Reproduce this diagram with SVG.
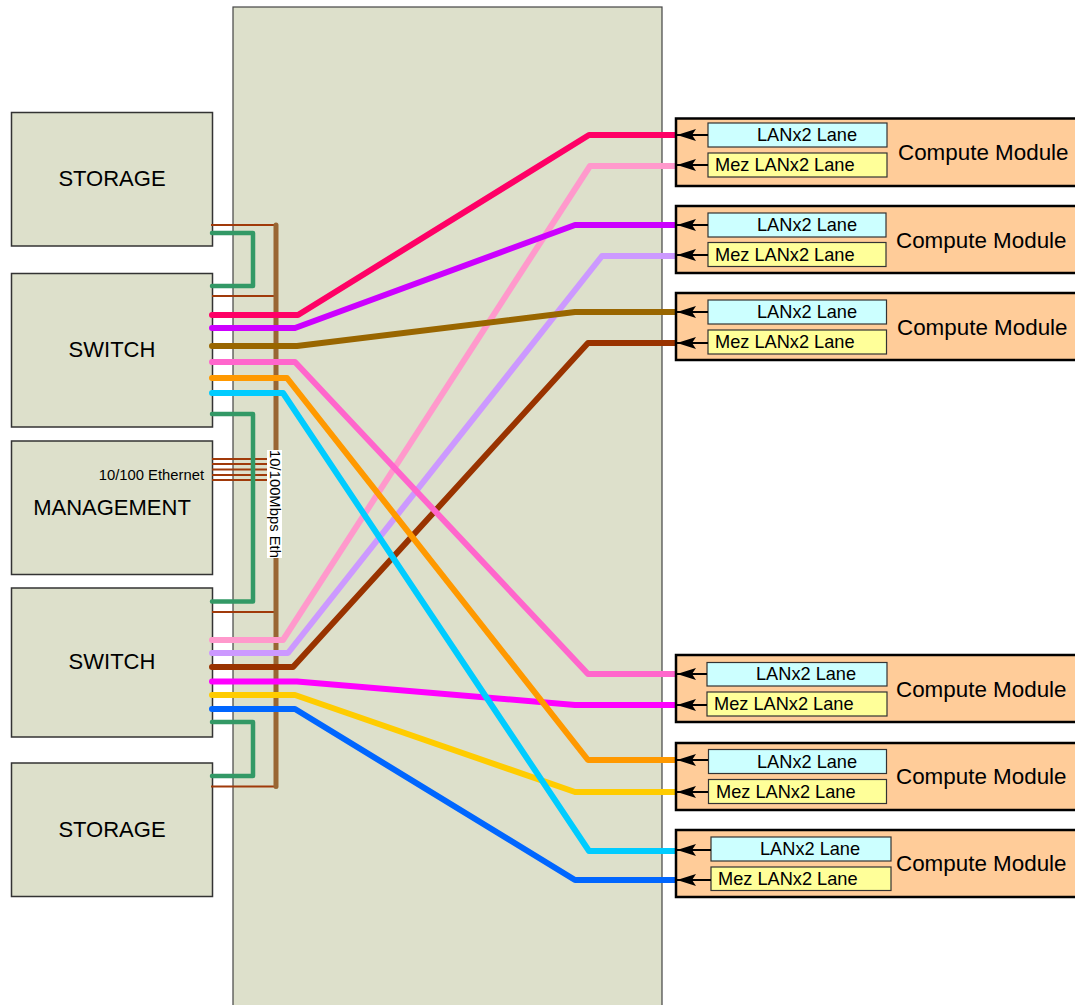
<svg xmlns="http://www.w3.org/2000/svg" width="1075" height="1005" viewBox="0 0 1075 1005">
<style>
.box{fill:#dde0cb;stroke:#333;stroke-width:1.5}
.lbl{font-family:"Liberation Sans",Arial,sans-serif;font-size:22px;fill:#000;text-anchor:middle}
.cm{fill:#ffcc99;stroke:#000;stroke-width:2.5}
.lan{fill:#ccffff;stroke:#333;stroke-width:1.2}
.mez{fill:#ffff99;stroke:#333;stroke-width:1.2}
.lt{font-family:"Liberation Sans",Arial,sans-serif;font-size:18.2px;fill:#000}
.ct{font-family:"Liberation Sans",Arial,sans-serif;font-size:22.4px;fill:#000}
.ar{stroke:#000;stroke-width:2;fill:none;marker-end:url(#ah)}
.w{fill:none;stroke-width:6;stroke-linecap:round;stroke-linejoin:round}
.g{fill:none;stroke:#339966;stroke-width:4.5;stroke-linecap:round;stroke-linejoin:round}
.tb{fill:none;stroke:#a03a0a;stroke-width:1.8}
</style>
<defs>
<marker id="ah" markerWidth="19" markerHeight="14" refX="19" refY="7" orient="auto" markerUnits="userSpaceOnUse">
<path d="M0,1 L19,7 L0,13 L4,7 Z" fill="#000"/>
</marker>
</defs>
<rect width="1075" height="1005" fill="#fff"/>
<g id="backplane"><rect x="233" y="7" width="429" height="1005" fill="#dde0cb" stroke="#444" stroke-width="1.2"/></g>
<g id="storage1"><rect class="box" x="11.5" y="112.5" width="201" height="133.5"/><text class="lbl" x="112" y="186">STORAGE</text></g>
<g id="switch1"><rect class="box" x="11.5" y="273.5" width="201" height="153.5"/><text class="lbl" x="112" y="357">SWITCH</text></g>
<g id="management"><rect class="box" x="11.5" y="441" width="201" height="133.5"/><text class="lbl" x="112" y="515">MANAGEMENT</text><text x="204" y="480" font-family="Liberation Sans,Arial,sans-serif" font-size="14.8" text-anchor="end">10/100 Ethernet</text></g>
<g id="switch2"><rect class="box" x="11.5" y="588" width="201" height="149"/><text class="lbl" x="112" y="669">SWITCH</text></g>
<g id="storage2"><rect class="box" x="11.5" y="763" width="201" height="133.5"/><text class="lbl" x="112" y="837">STORAGE</text></g>
<g id="connectors">
<path class="tb" d="M211,225 H276"/>
<path class="tb" d="M212,296 H276"/>
<path class="tb" d="M212,612 H276"/>
<path class="tb" d="M211,786.5 H276"/>
<path class="tb" d="M212,459 H276 M212,464 H276 M212,469.5 H276 M212,475 H276 M212,480 H276"/>
<path d="M276,225 V786.5" fill="none" stroke="#996633" stroke-width="5" stroke-linecap="round"/>
<path class="g" d="M212,233 H253 V286 H212"/>
<path class="g" d="M212,414 H253 V601.5 H212"/>
<path class="g" d="M212,722 H253 V776 H212"/>
<path class="w" stroke="#ff99cc" d="M212,640 H283 L590,166 H675"/>
<path class="w" stroke="#cc99ff" d="M212,653 H288 L602,256 H675"/>
<path class="w" stroke="#993300" d="M212,667 H293 L588,343 H675"/>
<path class="w" stroke="#ff00ff" d="M212,681.5 H297 L575,705 H675"/>
<path class="w" stroke="#ffcc00" d="M212,695 H295 L575,792 H675"/>
<path class="w" stroke="#0066ff" d="M212,709 H295 L575,880 H675"/>
<path class="w" stroke="#ff0066" d="M212,315 H298 L589,135 H675"/>
<path class="w" stroke="#cc00ff" d="M212,328 H295 L575,225 H675"/>
<path class="w" stroke="#996600" d="M212,346 H297 L575,312 H675"/>
<path class="w" stroke="#ff66cc" d="M212,362 H295 L588,674 H675"/>
<path class="w" stroke="#ff9900" d="M212,378 H287 L588,760 H675"/>
<path class="w" stroke="#00ccff" d="M212,393 H283 L589,851 H675"/>
<rect x="267" y="450" width="15" height="108" fill="#fff"/>
<text x="274.5" y="504" transform="rotate(90 274.5 504)" font-family="Liberation Sans,Arial,sans-serif" font-size="14.8" text-anchor="middle" dominant-baseline="central">10/100Mbps Eth</text>
</g>
<g id="cm1"><rect class="cm" x="676" y="118.5" width="410" height="67.5"/><rect class="lan" x="708" y="123" width="179" height="24"/><rect class="mez" x="708" y="153" width="179" height="24"/><text class="lt" x="757" y="141">LANx2 Lane</text><text class="lt" x="715" y="171">Mez LANx2 Lane</text><path class="ar" d="M708,135 H677"/><path class="ar" d="M708,165 H677"/><text class="ct" x="898" y="160">Compute Module</text></g>
<g id="cm2"><rect class="cm" x="676" y="206" width="410" height="67"/><rect class="lan" x="708" y="213" width="178" height="24"/><rect class="mez" x="708" y="242.5" width="178" height="24"/><text class="lt" x="757" y="231">LANx2 Lane</text><text class="lt" x="715" y="260.5">Mez LANx2 Lane</text><path class="ar" d="M708,225 H677"/><path class="ar" d="M708,255 H677"/><text class="ct" x="896" y="248">Compute Module</text></g>
<g id="cm3"><rect class="cm" x="676" y="293" width="410" height="67"/><rect class="lan" x="708" y="300" width="178.5" height="24"/><rect class="mez" x="708" y="330" width="178.5" height="24"/><text class="lt" x="757" y="318">LANx2 Lane</text><text class="lt" x="715" y="348">Mez LANx2 Lane</text><path class="ar" d="M708,312 H677"/><path class="ar" d="M708,343 H677"/><text class="ct" x="897" y="335">Compute Module</text></g>
<g id="cm4"><rect class="cm" x="676" y="655" width="410" height="67"/><rect class="lan" x="707" y="662.5" width="180" height="23.5"/><rect class="mez" x="707" y="692" width="180" height="24"/><text class="lt" x="756" y="680">LANx2 Lane</text><text class="lt" x="714" y="710">Mez LANx2 Lane</text><path class="ar" d="M707,674 H677"/><path class="ar" d="M707,705 H677"/><text class="ct" x="896" y="697">Compute Module</text></g>
<g id="cm5"><rect class="cm" x="676" y="743" width="410" height="67"/><rect class="lan" x="708.5" y="749.5" width="178" height="24"/><rect class="mez" x="708.5" y="779.5" width="178" height="24"/><text class="lt" x="757" y="767.5">LANx2 Lane</text><text class="lt" x="716" y="797.5">Mez LANx2 Lane</text><path class="ar" d="M708,760 H677"/><path class="ar" d="M708,792 H677"/><text class="ct" x="896" y="784">Compute Module</text></g>
<g id="cm6"><rect class="cm" x="676" y="830" width="410" height="67"/><rect class="lan" x="711" y="837" width="180" height="24"/><rect class="mez" x="711" y="867" width="180" height="23.5"/><text class="lt" x="760" y="855">LANx2 Lane</text><text class="lt" x="718" y="884.5">Mez LANx2 Lane</text><path class="ar" d="M711,850 H677"/><path class="ar" d="M711,880 H677"/><text class="ct" x="896" y="871">Compute Module</text></g>
</svg>
